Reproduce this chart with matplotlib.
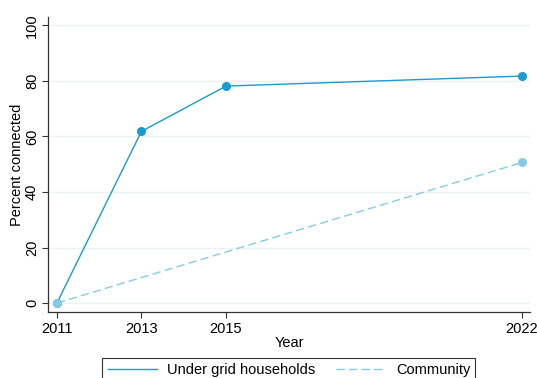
import matplotlib
matplotlib.use("Agg")
import matplotlib.pyplot as plt
from matplotlib.lines import Line2D

plt.rcParams["font.family"] = ["Liberation Sans", "DejaVu Sans"]

years = [2011, 2013, 2015, 2022]
under_grid = [0, 61.8, 78.1, 81.7]
community_years = [2011, 2022]
community = [0, 50.6]
year_ticks = [2011, 2013, 2015, 2022]
pct_ticks = [0, 20, 40, 60, 80, 100]

main_color = "#1a9ad0"
comm_color = "#86cbe6"

fig = plt.figure(figsize=(5.37, 3.78), dpi=100)
ax = fig.add_axes([0.0894, 0.1746, 0.8976, 0.780])

ax.plot(years, under_grid, color=main_color, linewidth=1.0,
        marker="o", markersize=5.5, zorder=2)
ax.plot(community_years, community, color=comm_color, linewidth=1.0,
        linestyle=(0, (6, 3)), marker="o", markersize=5.5, zorder=3)

ax.set_xlim(2010.79, 2022.19)
ax.set_ylim(-3.2, 102.9)
ax.set_xticks(year_ticks)
ax.set_yticks(pct_ticks)
ax.set_yticklabels([str(v) for v in pct_ticks], rotation=90, va="center")
ax.tick_params(labelsize=10.5, length=4, width=0.8, color="#333333")
ax.tick_params(axis="y", pad=2.5)
ax.grid(axis="y", color="#eaf2f3", linewidth=1.0)
ax.set_axisbelow(True)

for side in ["top", "right"]:
    ax.spines[side].set_visible(False)
for side in ["left", "bottom"]:
    ax.spines[side].set_color("#333333")
    ax.spines[side].set_linewidth(0.9)

ax.set_xlabel("Year", fontsize=10.5, labelpad=0)
ax.set_ylabel("Percent connected", fontsize=10.5, va="center")
ax.yaxis.set_label_coords(-0.064, 0.5)

handles = [
    Line2D([], [], color=main_color, linewidth=1.0),
    Line2D([], [], color=comm_color, linewidth=1.0, linestyle=(0, (6, 3))),
]
labels = ["Under grid households", "Community"]
leg = fig.legend(handles, labels, loc="upper center",
                 bbox_to_anchor=(0.538, 0.0529), borderaxespad=0,
                 ncol=2, fontsize=10.5, frameon=True, fancybox=False,
                 handlelength=3.4, handletextpad=0.7, columnspacing=1.4,
                 borderpad=0.35, edgecolor="black")
leg.get_frame().set_linewidth(0.8)

fig.savefig("out.png", dpi=100)
